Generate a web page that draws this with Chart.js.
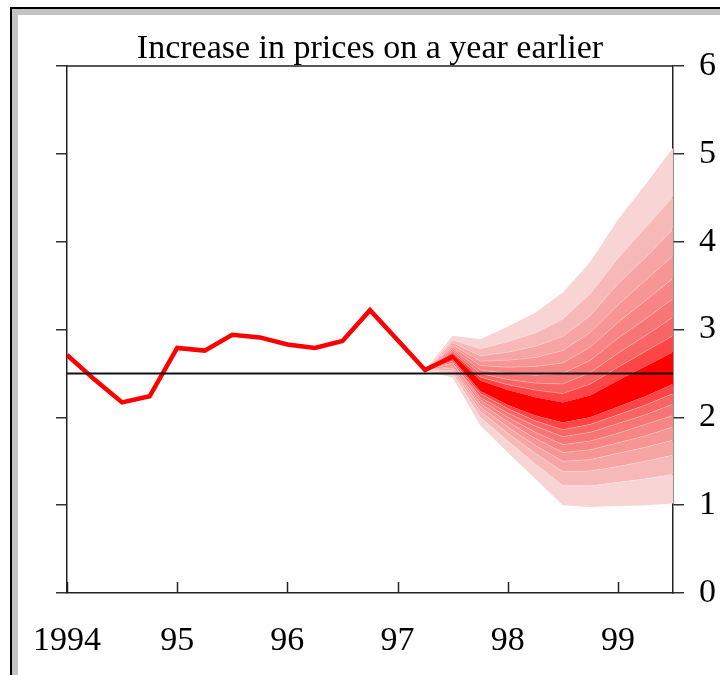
<!DOCTYPE html>
<html>
<head>
<meta charset="utf-8">
<script src="https://cdn.jsdelivr.net/npm/chart.js@4/dist/chart.umd.min.js"></script>
<style>
  html, body { margin: 0; padding: 0; background: #fff; }
  #wrap { position: relative; width: 720px; height: 675px; overflow: hidden; }
  #frame { position: absolute; left: 10px; top: 7px; width: 710px; height: 668px;
           border-top: 2px solid #000; border-left: 2px solid #000; background: #c3c3c3; }
  #inner { position: absolute; left: 6px; top: 6px; right: 0; bottom: 0; background: #fff; }
  #c { position: absolute; left: 0; top: 0; }
</style>
</head>
<body>
<div id="wrap">
  <div id="frame"><div id="inner"></div></div>
  <canvas id="c" width="720" height="675"></canvas>
</div>
<script>
// ---- data ----
const titleText = 'Increase in prices on a year earlier';
const xTickValues = [1994, 1995, 1996, 1997, 1998, 1999];
const xTickLabels = ['1994', '95', '96', '97', '98', '99'];
const yTickValues = [0, 1, 2, 3, 4, 5, 6];

const histX = [1994.00, 1994.25, 1994.50, 1994.75, 1995.00, 1995.25, 1995.50, 1995.75,
               1996.00, 1996.25, 1996.50, 1996.75, 1997.00, 1997.25, 1997.50];
const histY = [2.71, 2.43, 2.17, 2.24, 2.79, 2.76, 2.94, 2.91,
               2.83, 2.79, 2.87, 3.22, 2.88, 2.54, 2.69];

const baseX = [1994, 1999.5];
const baseY = [2.5, 2.5];

const fanX = [1997.25, 1997.5, 1997.75, 1998.0, 1998.25, 1998.5, 1998.75, 1999.0, 1999.25, 1999.5];
const fanL8 = [2.54, 2.45, 1.91, 1.60, 1.30, 1.00, 0.98, 0.99, 1.00, 1.02];
const fanL7 = [2.54, 2.50, 2.00, 1.73, 1.47, 1.22, 1.22, 1.26, 1.30, 1.35];
const fanL6 = [2.54, 2.53, 2.07, 1.82, 1.59, 1.38, 1.39, 1.44, 1.50, 1.57];
const fanL5 = [2.54, 2.56, 2.12, 1.89, 1.68, 1.50, 1.52, 1.59, 1.66, 1.74];
const fanL4 = [2.54, 2.58, 2.16, 1.95, 1.76, 1.60, 1.63, 1.71, 1.79, 1.89];
const fanL3 = [2.54, 2.61, 2.20, 2.00, 1.83, 1.69, 1.73, 1.82, 1.92, 2.02];
const fanL2 = [2.54, 2.62, 2.23, 2.05, 1.90, 1.78, 1.83, 1.93, 2.03, 2.15];
const fanL1 = [2.54, 2.64, 2.27, 2.10, 1.96, 1.86, 1.92, 2.03, 2.14, 2.27];
const fanCbot = [2.54, 2.66, 2.30, 2.14, 2.02, 1.94, 2.00, 2.12, 2.24, 2.38];
const fanCtop = [2.54, 2.72, 2.42, 2.31, 2.23, 2.17, 2.25, 2.42, 2.58, 2.74];
const fanU1 = [2.54, 2.74, 2.46, 2.37, 2.31, 2.27, 2.38, 2.57, 2.75, 2.93];
const fanU2 = [2.54, 2.76, 2.50, 2.43, 2.39, 2.38, 2.51, 2.73, 2.93, 3.14];
const fanU3 = [2.54, 2.78, 2.54, 2.50, 2.48, 2.50, 2.65, 2.90, 3.12, 3.35];
const fanU4 = [2.54, 2.80, 2.59, 2.57, 2.58, 2.62, 2.80, 3.08, 3.33, 3.58];
const fanU5 = [2.54, 2.82, 2.64, 2.65, 2.68, 2.76, 2.97, 3.28, 3.56, 3.84];
const fanU6 = [2.54, 2.85, 2.70, 2.74, 2.81, 2.92, 3.16, 3.52, 3.82, 4.14];
const fanU7 = [2.54, 2.88, 2.78, 2.86, 2.96, 3.12, 3.41, 3.81, 4.16, 4.51];
const fanU8 = [2.54, 2.93, 2.89, 3.03, 3.19, 3.42, 3.77, 4.25, 4.65, 5.07];

// ---- styling ----
const FONT = "'Liberation Serif', 'Times New Roman', serif";
const bandColors = ['#ff0000', '#fd4545', '#f96565', '#f87575', '#f78585',
                    '#f79494', '#f7a4a4', '#f7b8b8', '#f8d4d4'];
const sepColor = 'rgba(255,255,255,0.35)';

const pts = (xs, ys) => xs.map((x, i) => ({ x: x, y: ys[i] }));

function fanDs(ys, fill, color, sep) {
  return {
    type: 'line',
    data: pts(fanX, ys),
    borderColor: sep ? sepColor : 'rgba(0,0,0,0)',
    borderWidth: sep ? 0.7 : 0,
    backgroundColor: color || 'rgba(0,0,0,0)',
    fill: fill,
    pointRadius: 0,
    tension: 0,
    order: 2
  };
}

const datasets = [
  { type: 'line', data: pts(baseX, baseY), borderColor: '#111', borderWidth: 2,
    pointRadius: 0, fill: false, order: 0 },
  { type: 'line', data: pts(histX, histY), borderColor: '#ff0000', borderWidth: 4.5,
    borderJoinStyle: 'miter', borderCapStyle: 'butt', pointRadius: 0, fill: false, tension: 0, order: 1 },
  fanDs(fanL8, false, null, false),
  fanDs(fanL7, '-1', bandColors[8], true),
  fanDs(fanL6, '-1', bandColors[7], true),
  fanDs(fanL5, '-1', bandColors[6], true),
  fanDs(fanL4, '-1', bandColors[5], true),
  fanDs(fanL3, '-1', bandColors[4], true),
  fanDs(fanL2, '-1', bandColors[3], true),
  fanDs(fanL1, '-1', bandColors[2], true),
  fanDs(fanCbot, '-1', bandColors[1], false),
  fanDs(fanCtop, '-1', bandColors[0], false),
  fanDs(fanU1, '-1', bandColors[1], true),
  fanDs(fanU2, '-1', bandColors[2], true),
  fanDs(fanU3, '-1', bandColors[3], true),
  fanDs(fanU4, '-1', bandColors[4], true),
  fanDs(fanU5, '-1', bandColors[5], true),
  fanDs(fanU6, '-1', bandColors[6], true),
  fanDs(fanU7, '-1', bandColors[7], true),
  fanDs(fanU8, '-1', bandColors[8], false)
];

const frameLines = {
  id: 'frameLines',
  afterDraw(chart) {
    const { ctx, chartArea: a, scales } = chart;
    const x = scales.x;
    ctx.save();
    ctx.strokeStyle = '#222';
    ctx.lineWidth = 1.5;
    ctx.beginPath();
    ctx.moveTo(a.left, a.top);
    ctx.lineTo(a.right, a.top);
    x.ticks.forEach(t => {
      const px = Math.round(x.getPixelForValue(t.value)) + 0.5;
      ctx.moveTo(px, a.bottom);
      ctx.lineTo(px, a.bottom - 11);
    });
    ctx.stroke();
    ctx.restore();
  }
};

new Chart(document.getElementById('c'), {
  type: 'line',
  data: { datasets: datasets },
  plugins: [frameLines],
  options: {
    responsive: false,
    animation: false,
    devicePixelRatio: 1,
    layout: { padding: 0 },
    plugins: {
      legend: { display: false },
      tooltip: { enabled: false },
      title: {
        display: true,
        text: titleText,
        fullSize: false,
        color: '#000',
        font: { family: FONT, size: 34, weight: 'normal', lineHeight: 0.9 },
        padding: { top: 34, bottom: 1.4 }
      }
    },
    scales: {
      x: {
        type: 'linear',
        position: 'bottom',
        min: 1994,
        max: 1999.5,
        afterBuildTicks: s => { s.ticks = xTickValues.map(v => ({ value: v })); },
        afterFit: s => { s.height = 82; },
        grid: { display: false, drawTicks: false },
        border: { display: true, color: '#222', width: 1.5 },
        ticks: {
          padding: 28,
          color: '#000',
          maxRotation: 0,
          autoSkip: false,
          font: { family: FONT, size: 34 },
          callback: (v) => { const i = xTickValues.indexOf(v); return i >= 0 ? xTickLabels[i] : ''; }
        }
      },
      y: {
        type: 'linear',
        position: 'left',
        min: 0,
        max: 6,
        afterBuildTicks: s => { s.ticks = yTickValues.map(v => ({ value: v })); },
        afterFit: s => { s.width = 67; },
        grid: { drawOnChartArea: false, drawTicks: true, tickLength: 11, color: '#333', lineWidth: 1.5 },
        border: { display: true, color: '#222', width: 1.5 },
        ticks: { display: false }
      },
      y2: {
        type: 'linear',
        position: 'right',
        min: 0,
        max: 6,
        afterBuildTicks: s => { s.ticks = yTickValues.map(v => ({ value: v })); },
        afterFit: s => { s.width = 47; },
        grid: { drawOnChartArea: false, drawTicks: true, tickLength: 11, color: '#333', lineWidth: 1.5 },
        border: { display: true, color: '#222', width: 1.5 },
        ticks: {
          padding: 15,
          color: '#000',
          font: { family: FONT, size: 34 },
          callback: v => String(v)
        }
      }
    }
  }
});
</script>
</body>
</html>
